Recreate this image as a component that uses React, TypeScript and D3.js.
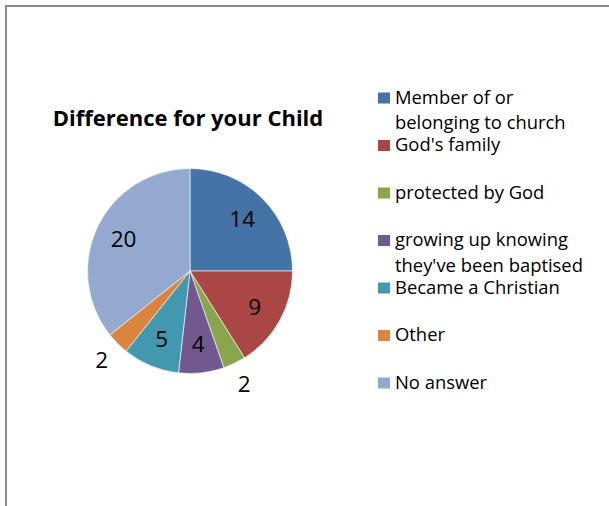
import React, { useRef, useEffect } from 'react';
import * as d3 from 'd3';

const categories = [
  'Member of or belonging to church',
  "God's family",
  'protected by God',
  "growing up knowing they've been baptised",
  'Became a Christian',
  'Other',
  'No answer',
];

// legend text as wrapped in the original
const legendLines = [
  ['Member of or', 'belonging to church'],
  ["God's family"],
  ['protected by God'],
  ['growing up knowing', "they've been baptised"],
  ['Became a Christian'],
  ['Other'],
  ['No answer'],
];

const values = [14, 9, 2, 4, 5, 2, 20];

const colors = ['#4572A7', '#AA4643', '#89A54E', '#71588F', '#4198AF', '#DB843D', '#93A9CF'];

const title = 'Difference for your Child';

const width = 609;
const height = 506;
const font = '"Open Sans", Lato, sans-serif';

const App: React.FC = () => {
  const svgRef = useRef<SVGSVGElement>(null);

  useEffect(() => {
    if (!svgRef.current) return;
    const svg = d3.select(svgRef.current);
    svg.selectAll('*').remove();

    // chart area border (runs off the right and bottom edge)
    svg
      .append('rect')
      .attr('x', 6)
      .attr('y', 6)
      .attr('width', width + 20)
      .attr('height', height + 20)
      .attr('fill', 'white')
      .attr('stroke', '#8a8a8a')
      .attr('stroke-width', 2);

    svg
      .append('text')
      .attr('x', 188)
      .attr('y', 126)
      .attr('text-anchor', 'middle')
      .attr('font-family', font)
      .attr('font-weight', 'bold')
      .attr('font-size', 22)
      .attr('fill', '#000')
      .text(title);

    const cx = 190;
    const cy = 271;
    const radius = 102.5;
    const total = d3.sum(values);

    const g = svg.append('g').attr('transform', `translate(${cx},${cy})`);

    const pie = d3
      .pie<number>()
      .value((d) => d)
      .sort(null);

    const arc = d3.arc<d3.PieArcDatum<number>>().innerRadius(0).outerRadius(radius);
    const insideArc = d3
      .arc<d3.PieArcDatum<number>>()
      .innerRadius(radius * 0.72)
      .outerRadius(radius * 0.72);
    const outsideArc = d3
      .arc<d3.PieArcDatum<number>>()
      .innerRadius(radius * 1.22)
      .outerRadius(radius * 1.22);

    const arcs = pie(values);

    g.selectAll('path')
      .data(arcs)
      .enter()
      .append('path')
      .attr('d', arc)
      .attr('fill', (d, i) => colors[i])
      .attr('stroke', 'white')
      .attr('stroke-width', 0.6);

    g.selectAll('text.lbl')
      .data(arcs)
      .enter()
      .append('text')
      .attr('class', 'lbl')
      .attr('transform', (d) => {
        const small = d.data / total < 0.05;
        const pos = small ? outsideArc.centroid(d) : insideArc.centroid(d);
        return `translate(${pos})`;
      })
      .attr('text-anchor', 'middle')
      .attr('dy', '0.36em')
      .attr('font-family', font)
      .attr('font-size', 22.5)
      .attr('fill', '#000')
      .text((d) => d.data);

    // legend
    const legendY = d3
      .scalePoint<string>()
      .domain(categories)
      .range([103.5, 388.5]);

    const legend = svg
      .append('g')
      .selectAll('g')
      .data(categories)
      .enter()
      .append('g')
      .attr('transform', (d) => `translate(0,${legendY(d)})`);

    legend
      .append('rect')
      .attr('x', 378)
      .attr('y', -11)
      .attr('width', 12)
      .attr('height', 11)
      .attr('fill', (d, i) => colors[i]);

    legend
      .append('text')
      .attr('x', 395)
      .attr('font-family', font)
      .attr('font-size', 18.4)
      .attr('fill', '#000')
      .selectAll('tspan')
      .data((d, i) => legendLines[i])
      .enter()
      .append('tspan')
      .attr('x', 395)
      .attr('y', (d, j) => j * 25.5)
      .text((d) => d);
  }, []);

  return (
    <svg
      ref={svgRef}
      width={width}
      height={height}
      style={{ position: 'absolute', left: 0, top: 0, display: 'block' }}
    />
  );
};

export default App;
